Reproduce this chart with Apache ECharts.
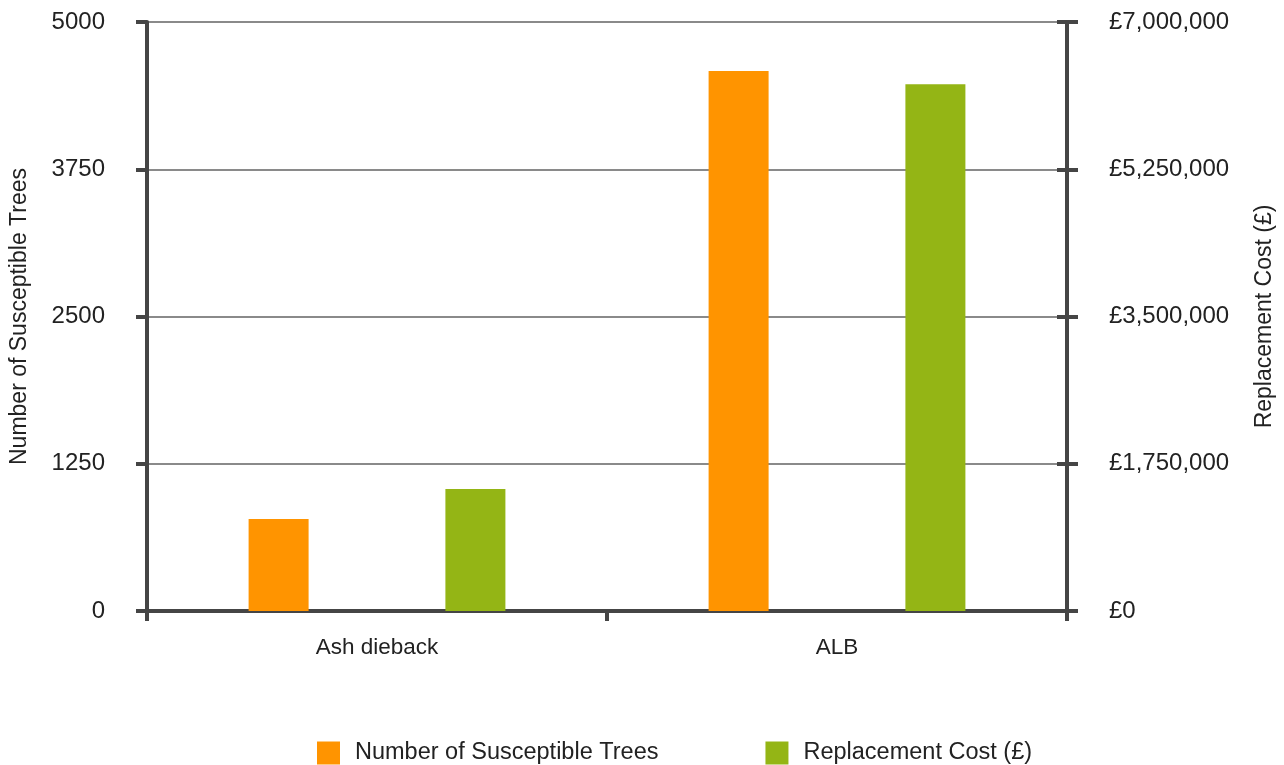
<!DOCTYPE html>
<html>
<head>
<meta charset="utf-8">
<script src="https://cdn.jsdelivr.net/npm/echarts@6/dist/echarts.min.js"></script>
<style>
  html, body { margin: 0; padding: 0; background: #ffffff; }
  #chart { width: 1284px; height: 765px; }
</style>
</head>
<body>
<div id="chart"></div>
<script>
// Categories and values
const categories = ['Ash dieback', 'ALB'];
const susceptibleTrees = [780, 4585];
const replacementCost = [1450000, 6260000];

// Tick labels of both value axes
const treeTicks = [0, 1250, 2500, 3750, 5000];
const costTicks = [0, 1750000, 3500000, 5250000, 7000000];

const seriesNames = ['Number of Susceptible Trees', 'Replacement Cost (£)'];
const colors = ['#FF9400', '#94B515'];

const axisColor = '#454545';
const gridColor = '#8a8a8a';
const textColor = '#222222';
const fontFamily = '"Liberation Sans", Arial, Helvetica, sans-serif';

function withCommas(v) {
  return String(v).replace(/\B(?=(\d{3})+(?!\d))/g, ',');
}

const chart = echarts.init(document.getElementById('chart'), null, { renderer: 'canvas' });

const option = {
  backgroundColor: '#ffffff',
  animation: false,
  textStyle: { fontFamily: fontFamily, color: textColor },
  grid: { left: 146, right: 216, top: 22, bottom: 154, containLabel: false },
  legend: {
    data: seriesNames,
    left: 312,
    top: 736,
    icon: 'rect',
    itemWidth: 23,
    itemHeight: 23,
    itemGap: 107,
    textStyle: { fontSize: 23.5, color: textColor, fontFamily: fontFamily, padding: [0, 0, 0, 10] }
  },
  xAxis: {
    type: 'category',
    data: categories,
    axisLine: { show: true, lineStyle: { color: axisColor, width: 4 } },
    axisTick: { show: true, length: 10, lineStyle: { color: axisColor, width: 4 } },
    axisLabel: { fontSize: 22.5, color: textColor, margin: 25, fontFamily: fontFamily },
    splitLine: { show: false }
  },
  yAxis: [
    {
      type: 'value',
      position: 'left',
      min: treeTicks[0],
      max: treeTicks[treeTicks.length - 1],
      interval: treeTicks[1] - treeTicks[0],
      name: seriesNames[0],
      nameLocation: 'middle',
      nameRotate: 90,
      nameGap: 116,
      nameTextStyle: { fontSize: 23, color: textColor, fontFamily: fontFamily },
      axisLine: { show: true, lineStyle: { color: axisColor, width: 4 } },
      axisTick: { show: true, length: 11, lineStyle: { color: axisColor, width: 4 } },
      axisLabel: {
        fontSize: 24, color: textColor, margin: 42, fontFamily: fontFamily,
        padding: [4, 0, 0, 0],
        formatter: function (v) { return String(v); }
      },
      splitLine: { show: true, lineStyle: { color: gridColor, width: 2 } }
    },
    {
      type: 'value',
      position: 'right',
      min: costTicks[0],
      max: costTicks[costTicks.length - 1],
      interval: costTicks[1] - costTicks[0],
      name: seriesNames[1],
      nameLocation: 'middle',
      nameRotate: 90,
      nameGap: 186,
      nameTextStyle: { fontSize: 23, color: textColor, fontFamily: fontFamily },
      axisLine: { show: true, lineStyle: { color: axisColor, width: 4 } },
      axisTick: { show: true, length: 11, lineStyle: { color: axisColor, width: 4 } },
      axisLabel: {
        fontSize: 24, color: textColor, margin: 42, fontFamily: fontFamily,
        padding: [4, 0, 0, 0],
        formatter: function (v) { return '£' + withCommas(v); }
      },
      splitLine: { show: false }
    },
    {
      // inner half of the right-hand tick marks
      type: 'value',
      position: 'right',
      min: costTicks[0],
      max: costTicks[costTicks.length - 1],
      interval: costTicks[1] - costTicks[0],
      axisLine: { show: false },
      axisTick: { show: true, inside: true, length: 10, lineStyle: { color: axisColor, width: 4 } },
      axisLabel: { show: false },
      splitLine: { show: false }
    }
  ],
  series: [
    {
      name: seriesNames[0],
      type: 'bar',
      yAxisIndex: 0,
      data: susceptibleTrees,
      barWidth: 60,
      barGap: '228%',
      itemStyle: { color: colors[0] }
    },
    {
      name: seriesNames[1],
      type: 'bar',
      yAxisIndex: 1,
      data: replacementCost,
      barWidth: 60,
      barGap: '228%',
      itemStyle: { color: colors[1] }
    }
  ]
};

chart.setOption(option);
</script>
</body>
</html>
